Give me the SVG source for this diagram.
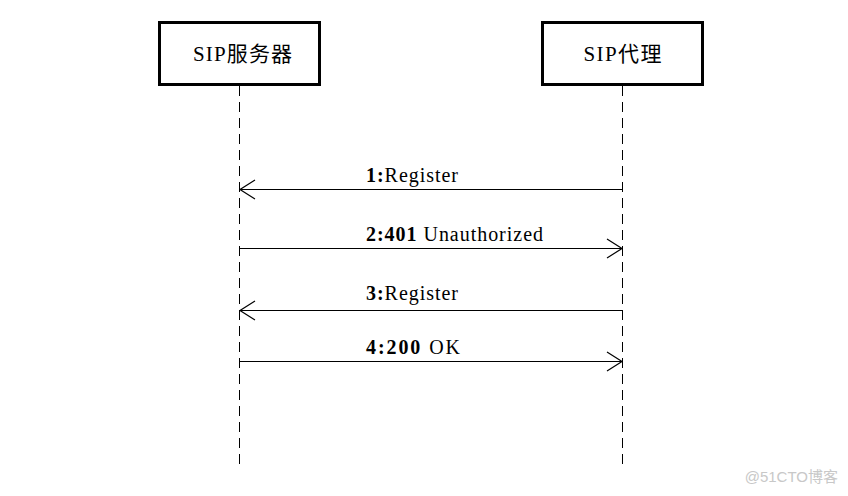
<svg xmlns="http://www.w3.org/2000/svg" width="848" height="496" viewBox="0 0 848 496">
<style>
.box{fill:#fff;stroke:#000;stroke-width:3}
.life{stroke:#000;stroke-width:1;stroke-dasharray:10,6;fill:none}
.msg{stroke:#000;stroke-width:1.2;fill:none}
.head{stroke:#000;stroke-width:1.2;fill:none}
.t{font-family:"Liberation Serif","Noto Sans CJK SC",serif;font-size:21px;fill:#000}
.lbl{font-family:"Liberation Serif",serif;font-size:20px;fill:#000}
.num{font-weight:bold}
.wm{font-family:"Liberation Sans","Noto Sans CJK SC",sans-serif;font-size:15px;fill:#c8c8c8}
</style>
<rect width="848" height="496" fill="#fff"/>
<g id="server">
<rect class="box" x="159.5" y="22.5" width="160" height="62"/>
<text class="t" x="242.5" y="61" text-anchor="middle" textLength="99" lengthAdjust="spacing">SIP服务器</text>
</g>
<g id="proxy">
<rect class="box" x="542.5" y="22.5" width="160" height="62"/>
<text class="t" x="622.5" y="61" text-anchor="middle" textLength="78" lengthAdjust="spacing">SIP代理</text>
</g>
<g id="lifelines">
<line class="life" x1="239.5" y1="86" x2="239.5" y2="466"/>
<line class="life" x1="622.5" y1="86" x2="622.5" y2="466"/>
</g>
<g id="connectors">
<line class="msg" x1="622.5" y1="189.5" x2="239.5" y2="189.5"/>
<polyline class="head" points="255,180 240,189.5 255,199"/>
<text class="lbl" x="366" y="182" textLength="92" lengthAdjust="spacing"><tspan class="num">1:</tspan>Register</text>
<line class="msg" x1="239.5" y1="248.5" x2="622.5" y2="248.5"/>
<polyline class="head" points="607,239 622,248.5 607,258"/>
<text class="lbl" x="366" y="241" textLength="177" lengthAdjust="spacing"><tspan class="num">2:401</tspan> Unauthorized</text>
<line class="msg" x1="622.5" y1="310.5" x2="239.5" y2="310.5"/>
<polyline class="head" points="255,301 240,310.5 255,320"/>
<text class="lbl" x="366" y="300" textLength="92" lengthAdjust="spacing"><tspan class="num">3:</tspan>Register</text>
<line class="msg" x1="239.5" y1="361.5" x2="622.5" y2="361.5"/>
<polyline class="head" points="607,352 622,361.5 607,371"/>
<text class="lbl" x="366" y="354" textLength="94" lengthAdjust="spacing"><tspan class="num">4:200</tspan> OK</text>
</g>
<text class="wm" x="838" y="482" text-anchor="end">@51CTO博客</text>
</svg>
